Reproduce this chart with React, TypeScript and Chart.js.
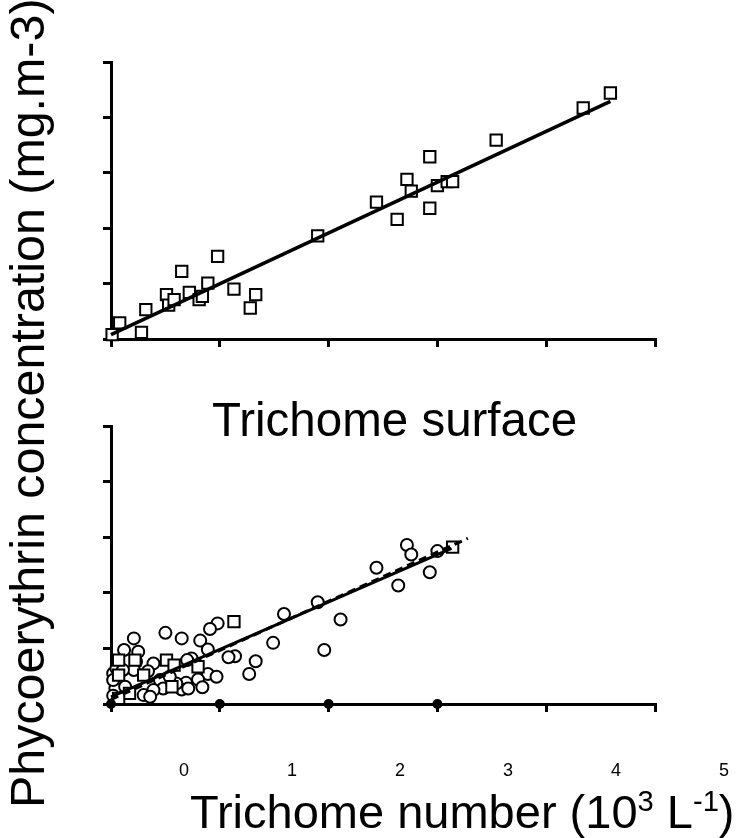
import React, { useEffect, useRef } from 'react';
import { Chart, registerables } from 'chart.js';

Chart.register(...registerables);

const FONT = 'Liberation Sans';
const CSS_FONT = '"Liberation Sans", Arial, Helvetica, sans-serif';
Chart.defaults.font.family = FONT;
Chart.defaults.color = '#000';

// axis ticks (values 0..5 on both axes, unlabeled on the panels)
const xTickValues = [0, 1, 2, 3, 4, 5];
const yTickValues = [0, 1, 2, 3, 4, 5];
const xTickLabels = ['0', '1', '2', '3', '4', '5'];

// top panel: squares
const topX = [0.01, 0.08, 0.28, 0.32, 0.51, 0.53, 0.58, 0.65, 0.72, 0.81, 0.84, 0.89, 0.98, 1.13, 1.28, 1.33, 1.90, 2.44, 2.63, 2.72, 2.76, 2.93, 2.93, 3.00, 3.09, 3.14, 3.54, 4.34, 4.59];
const topY = [0.08, 0.29, 0.12, 0.53, 0.80, 0.61, 0.71, 1.22, 0.84, 0.71, 0.77, 1.01, 1.49, 0.90, 0.56, 0.80, 1.86, 2.47, 2.16, 2.88, 2.67, 3.29, 2.36, 2.77, 2.84, 2.84, 3.59, 4.17, 4.44];
const topFitX = [0, 4.59];
const topFitY = [0.08, 4.29];

// bottom panel: circles
const botCircleX = [2.44, 1.90, 1.59, 2.11, 1.96, 1.49, 1.33, 1.27, 1.14, 1.08, 0.98, 0.91, 0.82, 0.89, 0.65, 0.50, 0.21, 0.12, 0.25, 0.74, 0.70, 0.89, 0.97, 0.80, 0.84, 0.69, 0.65, 0.71, 0.60, 0.39, 0.23, 0.21, 0.34, 0.45, 0.48, 0.39, 0.30, 0.36, 0.02, 0.04, 0.02, 0.02, 0.13, 0.54, 0.05, 0.11, 2.72, 2.76, 3.00, 2.93, 2.64];
const botCircleY = [2.45, 1.83, 1.62, 1.52, 0.97, 1.10, 0.77, 0.54, 0.86, 0.84, 1.45, 1.35, 1.14, 0.98, 1.18, 1.28, 1.18, 0.97, 0.94, 0.82, 0.79, 0.54, 0.49, 0.44, 0.30, 0.38, 0.26, 0.28, 0.37, 0.73, 0.76, 0.61, 0.59, 0.43, 0.28, 0.25, 0.16, 0.13, 0.55, 0.28, 0.43, 0.15, 0.31, 0.49, 0.64, 0.61, 2.86, 2.69, 2.75, 2.37, 2.13];
// bottom panel: squares
const botSquareX = [1.13, 0.80, 0.51, 0.58, 0.56, 0.30, 0.07, 0.22, 0.07, 0.17, 0.07, 3.14];
const botSquareY = [1.48, 0.67, 0.79, 0.70, 0.31, 0.52, 0.79, 0.79, 0.52, 0.19, 0.10, 2.82];
// bottom panel: regression lines
const botFitX = [0, 3.13];
const botFitY = [0.13, 2.80];
const botDashX = [0, 3.28];
const botDashY = [0.08, 2.98];
// bottom panel: filled dots on the x axis
const botDotX = [0, 1, 2, 3];
const botDotY = [0, 0, 0, 0];

const pts = (xs: number[], ys: number[]) => xs.map((x, i) => ({ x, y: ys[i] }));

const axis = (values: number[]) => ({
  type: 'linear' as const,
  min: 0,
  max: 5,
  border: { display: true, color: '#000', width: 3 },
  grid: { drawOnChartArea: false, color: '#000', lineWidth: 3, tickLength: 8 },
  ticks: { display: false, stepSize: 1 },
  afterBuildTicks: (s: any) => {
    s.ticks = values.map((v) => ({ value: v }));
  },
});

const baseOptions = (padding: any) => ({
  animation: false as const,
  responsive: false,
  maintainAspectRatio: false,
  events: [] as any[],
  layout: { padding },
  plugins: { legend: { display: false }, tooltip: { enabled: false }, title: { display: false } },
  scales: { x: axis(xTickValues), y: axis(yTickValues) },
});

function useChart(ref: React.RefObject<HTMLCanvasElement>, make: () => any) {
  useEffect(() => {
    if (!ref.current) return;
    const chart = new Chart(ref.current, make());
    return () => chart.destroy();
  }, []);
}

export default function App() {
  const topRef = useRef<HTMLCanvasElement>(null);
  const botRef = useRef<HTMLCanvasElement>(null);
  const lblRef = useRef<HTMLCanvasElement>(null);

  useChart(topRef as any, () => ({
    type: 'scatter',
    data: {
      datasets: [
        { data: pts(topFitX, topFitY), showLine: true, borderColor: '#000', borderWidth: 3.5, pointRadius: 0, clip: false },
        { data: pts(topX, topY), pointStyle: 'rect', pointRadius: 8, borderColor: '#000', backgroundColor: '#fff', pointBorderWidth: 2, clip: false },
      ],
    },
    options: baseOptions({ left: 103, top: 62, right: 82, bottom: 33 }),
  }));

  useChart(botRef as any, () => ({
    type: 'scatter',
    data: {
      datasets: [
        { data: pts(botDotX, botDotY), pointStyle: 'circle', pointRadius: 5, borderColor: '#000', backgroundColor: '#000', pointBorderWidth: 0, clip: false },
        { data: pts(botFitX, botFitY), showLine: true, borderColor: '#000', borderWidth: 3, pointRadius: 0, clip: false },
        { data: pts(botDashX, botDashY), showLine: true, borderColor: '#000', borderWidth: 3, borderDash: [8, 5], pointRadius: 0, clip: false },
        { data: pts(botSquareX, botSquareY), pointStyle: 'rect', pointRadius: 8, borderColor: '#000', backgroundColor: '#fff', pointBorderWidth: 2, clip: false },
        { data: pts(botCircleX, botCircleY), pointStyle: 'circle', pointRadius: 6, borderColor: '#000', backgroundColor: '#fff', pointBorderWidth: 2, clip: false },
      ],
    },
    options: baseOptions({ left: 103, top: 46, right: 82, bottom: 48 }),
  }));

  useChart(lblRef as any, () => ({
    type: 'scatter',
    data: { datasets: [] },
    options: {
      animation: false,
      responsive: false,
      maintainAspectRatio: false,
      events: [],
      layout: { padding: { left: 184, right: 13, top: 0, bottom: 0 } },
      plugins: { legend: { display: false }, tooltip: { enabled: false } },
      scales: {
        x: {
          type: 'linear',
          position: 'bottom',
          min: 0,
          max: 5,
          border: { display: false },
          grid: { display: false },
          ticks: {
            color: '#000',
            font: { family: FONT, size: 18 },
            padding: 3,
            maxRotation: 0,
            autoSkip: false,
            callback: (v: number) => xTickLabels[Math.round(v)] ?? '',
          },
          afterBuildTicks: (s: any) => {
            s.ticks = xTickValues.map((v) => ({ value: v }));
          },
        },
        y: { display: false, min: 0, max: 1 },
      },
    },
  }));

  const text: React.CSSProperties = {
    position: 'absolute',
    fontFamily: CSS_FONT,
    color: '#000',
    whiteSpace: 'nowrap',
    lineHeight: 1,
    margin: 0,
  };

  return (
    <div style={{ position: 'absolute', left: 0, top: 0, width: 737, height: 838, background: '#fff', overflow: 'hidden' }}>
      <canvas ref={topRef} width={737} height={380} style={{ position: 'absolute', left: 0, top: 0 }} />
      <canvas ref={botRef} width={737} height={380} style={{ position: 'absolute', left: 0, top: 380 }} />
      <canvas ref={lblRef} width={737} height={120} style={{ position: 'absolute', left: 0, top: 665 }} />
      <div style={{ ...text, left: 212, top: 396, fontSize: 47.5 }}>Trichome surface</div>
      <div style={{ ...text, left: 190, top: 787, fontSize: 47 }}>
        Trichome number (10<sup style={{ fontSize: '0.62em' }}>3</sup> L<sup style={{ fontSize: '0.62em' }}>-1</sup>)
      </div>
      <div
        style={{
          ...text,
          left: 0,
          top: 808,
          width: 808,
          height: 54,
          lineHeight: '54px',
          fontSize: 48.4,
          transform: 'rotate(-90deg)',
          transformOrigin: '0 0',
        }}
      >
        Phycoerythrin concentration (mg.m-3)
      </div>
    </div>
  );
}
